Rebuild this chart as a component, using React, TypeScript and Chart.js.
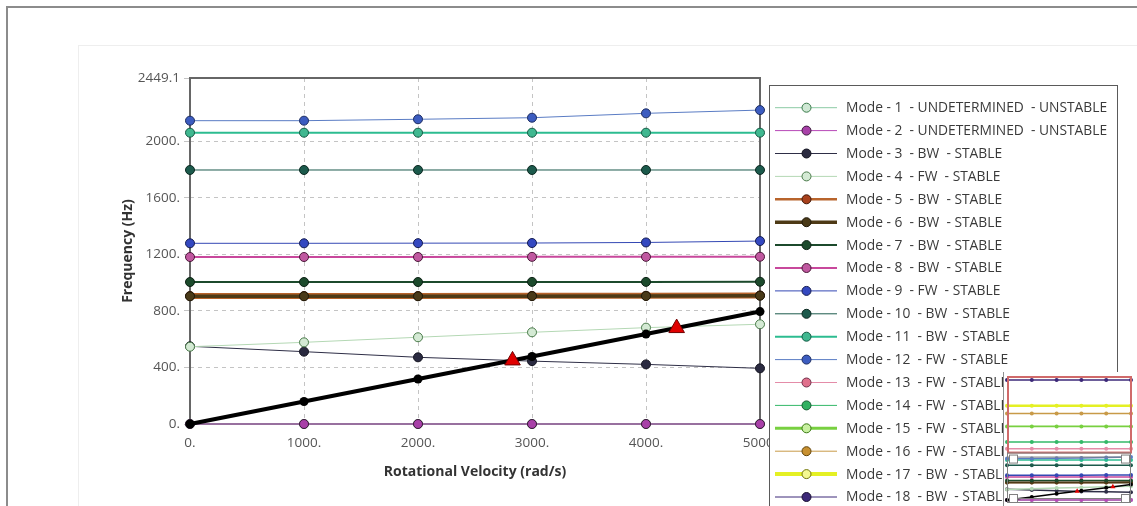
import React, { useEffect, useRef } from "react";
import { Chart, registerables } from "chart.js";

Chart.register(...registerables);

// ---------- data ----------
const speeds = [0, 1000, 2000, 3000, 4000, 5000];
const xTickLabels = ["0.", "1000.", "2000.", "3000.", "4000.", "5000."];
const yTickValues = [0, 400, 800, 1200, 1600, 2000, 2449.1];
const yTickLabels = ["0.", "400.", "800.", "1200.", "1600.", "2000.", "2449.1"];

const mode1 = [0, 0, 0, 0, 0, 0];
const mode2 = [0, 0, 0, 0, 0, 0];
const mode3 = [550, 512, 472, 445, 422, 394];
const mode4 = [547, 578, 614, 649, 682, 706];
const mode5 = [906, 906, 906, 907, 908, 910];
const mode6 = [904, 904, 904, 905, 906, 908];
const mode7 = [1005, 1005, 1005, 1006, 1006, 1007];
const mode8 = [1182, 1182, 1182, 1183, 1183, 1184];
const mode9 = [1279, 1279, 1280, 1281, 1285, 1295];
const mode10 = [1798, 1798, 1798, 1798, 1798, 1798];
const mode11 = [2062, 2062, 2062, 2062, 2062, 2062];
const mode12 = [2147, 2147, 2157, 2168, 2199, 2222];
const mode13 = [2650, 2650, 2650, 2650, 2650, 2650];
const mode14 = [3000, 3000, 3000, 3000, 3000, 3000];
const mode15 = [3800, 3800, 3800, 3800, 3800, 3800];
const mode16 = [4465, 4465, 4465, 4465, 4465, 4465];
const mode17 = [4865, 4865, 4865, 4865, 4865, 4865];
const mode18 = [6200, 6200, 6200, 6200, 6200, 6200];
const excitation1x = [0, 159.2, 318.3, 477.5, 636.6, 795.8];
const criticalSpeeds = [2829, 4269];
const criticalFreqs = [450, 679];

const modeLabels = [
  "Mode - 1  - UNDETERMINED  - UNSTABLE",
  "Mode - 2  - UNDETERMINED  - UNSTABLE",
  "Mode - 3  - BW  - STABLE",
  "Mode - 4  - FW  - STABLE",
  "Mode - 5  - BW  - STABLE",
  "Mode - 6  - BW  - STABLE",
  "Mode - 7  - BW  - STABLE",
  "Mode - 8  - BW  - STABLE",
  "Mode - 9  - FW  - STABLE",
  "Mode - 10  - BW  - STABLE",
  "Mode - 11  - BW  - STABLE",
  "Mode - 12  - FW  - STABLE",
  "Mode - 13  - FW  - STABLE",
  "Mode - 14  - FW  - STABLE",
  "Mode - 15  - FW  - STABLE",
  "Mode - 16  - FW  - STABLE",
  "Mode - 17  - BW  - STABLE",
  "Mode - 18  - BW  - STABLE",
];

const modeSeries = [
  mode1, mode2, mode3, mode4, mode5, mode6, mode7, mode8, mode9,
  mode10, mode11, mode12, mode13, mode14, mode15, mode16, mode17, mode18,
];

// ---------- styles ----------
const modeColors = [
  "#8ccaa4", "#b848b8", "#2e2e46", "#b4d8b4", "#b8642c", "#4e3a16",
  "#1c4a2c", "#c8489c", "#3448b4", "#1c5a4c", "#2cbc90", "#5a7cc4",
  "#e48ca8", "#34b868", "#78d040", "#c89a48", "#e4f024", "#3c2878",
];
const modeFills = [
  "#cfe8d4", "#a840a8", "#2a2a40", "#d4ead4", "#a8401c", "#4a3a18",
  "#1c4a2c", "#c058a0", "#3448c0", "#1c5a4c", "#40b890", "#3c5cc0",
  "#e0708c", "#30b060", "#c8f0a0", "#c89030", "#f4f890", "#3c2878",
];
const modePointBorders = [
  "#3a7a4a", "#3a1a3a", "#141420", "#4a7a4a", "#401808", "#201808",
  "#0c2014", "#4a1838", "#141c50", "#0c2820", "#145a44", "#1c2c60",
  "#70304a", "#145a30", "#3a7a14", "#60440c", "#70740c", "#1a1030",
];
const modeWidths = [1, 1, 1, 1, 6, 3.5, 2, 2, 1, 1, 2, 1, 1, 1, 3, 1, 4, 1];
const legendWidths = [1, 1, 1, 1, 2.5, 3.5, 2, 2, 1, 1, 2, 1, 1, 1, 3, 1, 4, 1];

const FONT = '"Open Sans", "Noto Sans", sans-serif';

function modeDatasets(thumb: boolean) {
  return modeSeries.map((arr, i) => ({
    label: modeLabels[i],
    data: speeds.map((x, j) => ({ x, y: arr[j] })),
    borderColor: modeColors[i],
    borderWidth: thumb ? Math.max(1.5, legendWidths[i] * 0.6) : modeWidths[i],
    pointRadius: thumb ? 2 : 4.5,
    pointBackgroundColor: thumb ? modeColors[i] : modeFills[i],
    pointBorderColor: thumb ? modeColors[i] : modePointBorders[i],
    pointBorderWidth: thumb ? 0 : 1,
    order: 100 - i,
    clip: 8,
    tension: 0,
  }));
}

function extraDatasets(thumb: boolean) {
  return [
    {
      label: "Critical speeds",
      data: criticalSpeeds.map((x, i) => ({ x, y: criticalFreqs[i] })),
      showLine: false,
      pointStyle: "triangle",
      pointRadius: thumb ? 3 : 9,
      pointBackgroundColor: "#e00000",
      pointBorderColor: "#700000",
      pointBorderWidth: thumb ? 0 : 1,
      order: 0,
      clip: 8,
    },
    {
      label: "1X",
      data: speeds.map((x, j) => ({ x, y: excitation1x[j] })),
      borderColor: "#000000",
      borderWidth: thumb ? 1.5 : 4,
      pointRadius: thumb ? 2 : 4.5,
      pointBackgroundColor: "#000000",
      pointBorderColor: "#000000",
      pointBorderWidth: 0,
      order: 1,
      clip: 8,
      tension: 0,
    },
  ];
}

const framePlugin = {
  id: "frame",
  beforeDatasetsDraw(chart: any) {
    const { ctx, chartArea: a } = chart;
    ctx.save();
    ctx.strokeStyle = "#666666";
    ctx.lineWidth = 2;
    ctx.strokeRect(a.left, a.top, a.right - a.left, a.bottom - a.top);
    ctx.restore();
  },
};

const legendPlugin = {
  id: "modeLegend",
  afterDraw(chart: any) {
    const ctx = chart.ctx;
    ctx.save();
    ctx.fillStyle = "#ffffff";
    ctx.fillRect(770, 86, 347, 430);
    ctx.strokeStyle = "#5a5a5a";
    ctx.lineWidth = 1;
    ctx.strokeRect(769.5, 85.5, 348, 440);
    ctx.font = `13.8px ${FONT}`;
    ctx.textBaseline = "middle";
    modeLabels.forEach((lab, i) => {
      const y = 107.7 + i * 22.9;
      ctx.strokeStyle = modeColors[i];
      ctx.lineWidth = legendWidths[i];
      ctx.beginPath();
      ctx.moveTo(775, y);
      ctx.lineTo(837, y);
      ctx.stroke();
      ctx.beginPath();
      ctx.arc(806.5, y, 4.5, 0, Math.PI * 2);
      ctx.fillStyle = modeFills[i];
      ctx.fill();
      ctx.lineWidth = 1;
      ctx.strokeStyle = modePointBorders[i];
      ctx.stroke();
      ctx.fillStyle = "#3a3a3a";
      ctx.fillText(lab, 846, y + 0.5);
    });
    ctx.restore();
  },
};

const thumbPlugin = {
  id: "thumbBoxes",
  beforeDraw(chart: any) {
    const { ctx, width, height } = chart;
    ctx.save();
    ctx.fillStyle = "#ffffff";
    ctx.fillRect(0, 0, width, height);
    ctx.restore();
  },
  afterDraw(chart: any) {
    const { ctx, chartArea: a, scales } = chart;
    const yTop = scales.y.getPixelForValue(yTickValues[yTickValues.length - 1]);
    const yBot = scales.y.getPixelForValue(0);
    ctx.save();
    ctx.strokeStyle = "#d06a6a";
    ctx.lineWidth = 2;
    ctx.strokeRect(a.left + 1, a.top + 1, a.right - a.left - 1, yTop - a.top - 1);
    ctx.strokeStyle = "#808080";
    ctx.lineWidth = 1;
    ctx.strokeRect(a.left + 0.5, yTop + 0.5, a.right - a.left - 1, yBot - yTop + 2);
    ctx.strokeRect(a.left + 0.5, yTop + 4.5, a.right - a.left - 1, yBot - yTop - 6);
    const hs = 8;
    [
      [a.left + 2, yTop + 2],
      [a.right - hs - 2, yTop + 2],
      [a.left + 2, yBot - hs + 2],
      [a.right - hs - 2, yBot - hs + 2],
    ].forEach(([x, y]) => {
      ctx.fillStyle = "#ffffff";
      ctx.fillRect(x, y, hs, hs);
      ctx.strokeRect(x + 0.5, y + 0.5, hs, hs);
    });
    ctx.strokeStyle = "#909090";
    ctx.beginPath();
    ctx.moveTo(0.5, 0);
    ctx.lineTo(0.5, chart.height);
    ctx.stroke();
    ctx.restore();
  },
};

export default function App() {
  const mainRef = useRef<HTMLCanvasElement | null>(null);
  const thumbRef = useRef<HTMLCanvasElement | null>(null);

  useEffect(() => {
    if (!mainRef.current || !thumbRef.current) return;
    const tickFont = { family: FONT, size: 13.5 };
    const titleFont = { family: FONT, size: 14, weight: "bold" as const };

    const main = new Chart(mainRef.current, {
      type: "line",
      data: { datasets: [...extraDatasets(false), ...modeDatasets(false)] as any },
      options: {
        animation: false,
        responsive: false,
        devicePixelRatio: 1,
        layout: { padding: { left: 100, top: 78, right: 377, bottom: 0 } },
        plugins: { legend: { display: false }, tooltip: { enabled: false } },
        scales: {
          x: {
            type: "linear",
            min: 0,
            max: 5000,
            afterBuildTicks: (s: any) => {
              s.ticks = speeds.map((v) => ({ value: v }));
            },
            afterFit: (s: any) => {
              s.height = 82;
            },
            ticks: {
              callback: (_v: any, i: number) => xTickLabels[i],
              font: tickFont,
              color: "#555555",
              padding: 11,
              maxRotation: 0,
            },
            grid: { color: "#c4c4c4", drawTicks: false, lineWidth: 1 },
            border: { display: false, dash: [4, 4] },
            title: {
              display: true,
              text: "Rotational Velocity (rad/s)",
              font: titleFont,
              color: "#333333",
              padding: { top: 0, bottom: 25.5 },
            },
          },
          y: {
            type: "linear",
            min: 0,
            max: 2449.1,
            afterBuildTicks: (s: any) => {
              s.ticks = yTickValues.map((v) => ({ value: v }));
            },
            afterFit: (s: any) => {
              s.width = 90;
            },
            ticks: {
              callback: (_v: any, i: number) => yTickLabels[i],
              font: tickFont,
              color: "#555555",
              padding: 4,
            },
            grid: { color: "#c4c4c4", drawTicks: true, tickLength: 6, lineWidth: 1 },
            border: { display: false, dash: [4, 4] },
            title: {
              display: true,
              text: "Frequency (Hz)",
              font: titleFont,
              color: "#333333",
              padding: { top: 20, bottom: 4 },
            },
          },
        },
      } as any,
      plugins: [framePlugin, legendPlugin],
    });

    const thumb = new Chart(thumbRef.current, {
      type: "line",
      data: { datasets: [...extraDatasets(true), ...modeDatasets(true)] as any },
      options: {
        animation: false,
        responsive: false,
        devicePixelRatio: 1,
        layout: { padding: { left: 0, top: 0, right: 6, bottom: 6 } },
        plugins: { legend: { display: false }, tooltip: { enabled: false } },
        scales: {
          x: { type: "linear", min: 0, max: 5000, display: false },
          y: { type: "linear", min: 0, max: 6400, display: false },
        },
      } as any,
      plugins: [thumbPlugin],
    });

    return () => {
      main.destroy();
      thumb.destroy();
    };
  }, []);

  return (
    <div
      style={{
        position: "fixed",
        left: 0,
        top: 0,
        width: 1137,
        height: 506,
        background: "#ffffff",
        overflow: "hidden",
      }}
    >
      <div
        style={{
          position: "absolute",
          left: 6,
          top: 6,
          right: 0,
          bottom: 0,
          borderTop: "2px solid #8c8c8c",
          borderLeft: "2px solid #8c8c8c",
        }}
      />
      <div
        style={{
          position: "absolute",
          left: 78,
          top: 45,
          right: 0,
          bottom: 0,
          borderTop: "1px solid #eeeeee",
          borderLeft: "1px solid #eeeeee",
        }}
      />
      <canvas
        ref={mainRef}
        width={1137}
        height={506}
        style={{ position: "absolute", left: 0, top: 0, width: 1137, height: 506 }}
      />
      <canvas
        ref={thumbRef}
        width={134}
        height={134}
        style={{ position: "absolute", left: 1003, top: 372, width: 134, height: 134 }}
      />
    </div>
  );
}
